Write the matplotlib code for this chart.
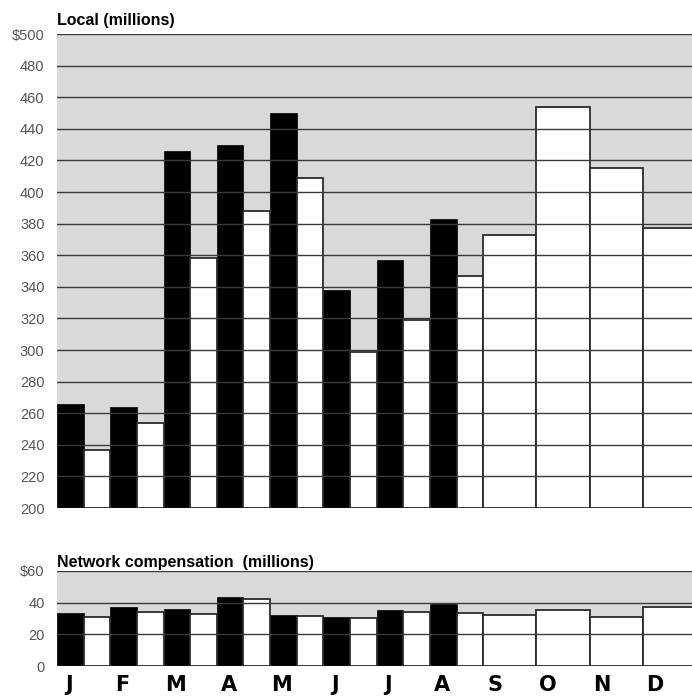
import numpy as np
import matplotlib
matplotlib.use("Agg")
from matplotlib import pyplot as plt

plt.rcParams['font.family'] = ['Liberation Sans', 'DejaVu Sans']

# ─── Dados ──────────────────────────────────────────────────────
months = ["J", "F", "M", "A", "M", "J", "J", "A", "S", "O", "N", "D"]

# Local (milhões) – ano corrente (preto, jan–ago) e ano anterior (branco)
local_this = [266, 264, 426, 430, 450, 338, 357, 383]
local_last = [237, 254, 358, 388, 409, 299, 319, 347, 373, 454, 415, 377]

# Network compensation (milhões)
net_this = [33.5, 37, 36, 43.6, 32, 31, 35.2, 39]
net_last = [31, 34.2, 32.7, 42.6, 31.7, 30.6, 34.2, 33.2, 32.1, 35.2, 31, 37.3]

local_ticks = list(range(200, 501, 20))
local_labels = [str(t) for t in local_ticks[:-1]] + ["$500"]
net_ticks = [0, 20, 40, 60]
net_labels = ["0", "20", "40", "$60"]

BG = "#d9d9d9"
EDGE = "#2b2b2b"
GRID = "#3a3a3a"


def draw_panel(ax, this_year, last_year, ticks, labels, title):
    ax.set_facecolor(BG)
    n_this = len(this_year)
    x = np.arange(len(last_year))
    # barras do ano corrente (pretas) na metade esquerda do mês
    ax.bar(x[:n_this], np.array(this_year) - ticks[0], bottom=ticks[0],
           width=0.5, align='edge', color='black', edgecolor='black',
           linewidth=0.5, zorder=2)
    # barras do ano anterior: metade direita (jan–ago), mês inteiro (set–dez)
    lefts = [i + 0.5 if i < n_this else i for i in x]
    widths = [0.5 if i < n_this else 1.0 for i in x]
    ax.bar(lefts, np.array(last_year) - ticks[0], bottom=ticks[0],
           width=widths, align='edge', color='white', edgecolor=EDGE,
           linewidth=1.3, zorder=2)
    for t in ticks:
        ax.axhline(t, color=GRID, linewidth=1.0, zorder=3)
    ax.set_xlim(0, 11.92)
    ax.set_ylim(ticks[0], ticks[-1])
    ax.set_yticks(ticks)
    ax.set_yticklabels(labels, fontsize=10.5, color="#555555")
    ax.tick_params(axis='y', length=0, pad=9)
    ax.set_xticks([])
    for s in ax.spines.values():
        s.set_visible(False)
    ax.text(0, 1.012, title, transform=ax.transAxes, ha='left', va='bottom',
            fontsize=11.5, fontweight='bold', color='black')


fig = plt.figure(figsize=(6.92, 6.96), dpi=100)
ax_top = fig.add_axes([0.0824, 0.2701, 0.9176, 0.6810])
ax_bot = fig.add_axes([0.0824, 0.0431, 0.9176, 0.1365])

draw_panel(ax_top, local_this, local_last, local_ticks, local_labels,
           "Local (millions)")
draw_panel(ax_bot, net_this, net_last, net_ticks, net_labels,
           "Network compensation  (millions)")

# rótulos dos meses
for i, m in enumerate(months):
    ax_bot.text(i + 0.22, -0.09, m, transform=ax_bot.get_xaxis_transform(),
                ha='center', va='top', fontsize=15, fontweight='bold',
                family=['DejaVu Sans'])

fig.savefig("out.png", dpi=100, facecolor='white')
